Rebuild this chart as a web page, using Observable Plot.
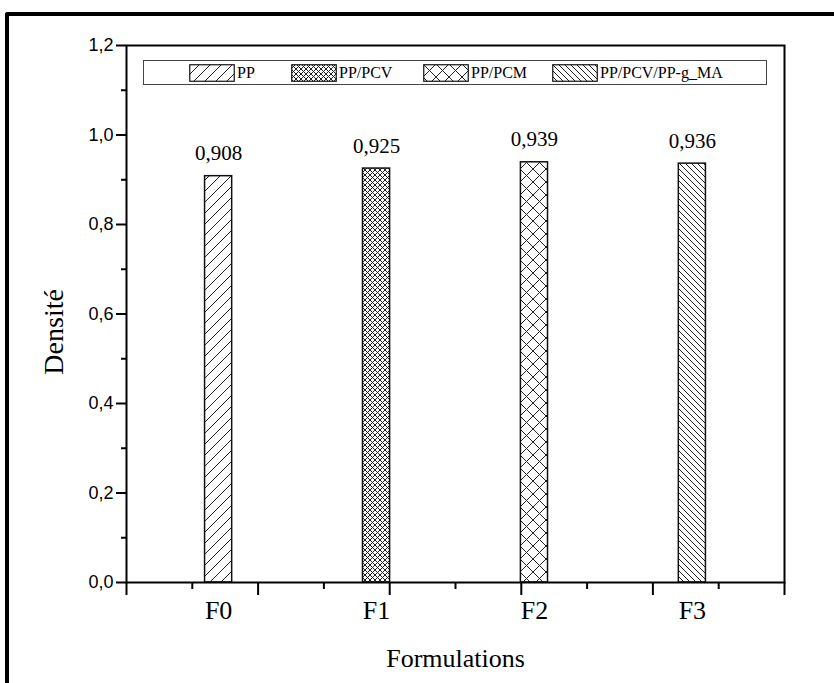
<!DOCTYPE html>
<html>
<head>
<meta charset="utf-8">
<script src="https://cdn.jsdelivr.net/npm/d3@7"></script>
<script src="https://cdn.jsdelivr.net/npm/@observablehq/plot@0.6"></script>
<style>
  html, body { margin: 0; padding: 0; background: #fff; overflow: hidden; width: 834px; height: 683px; }
  #outer { position: absolute; left: 5px; top: 12px; width: 1000px; height: 1000px;
           border-left: 4px solid #000; border-top: 4px solid #000; border-top-left-radius: 3px; }
  #chart { position: absolute; left: 0; top: 0; }
  #legend { position: absolute; left: 143px; top: 60px; width: 622px; height: 23px;
            border: 1.5px solid #444; background: #fff; font-family: "Liberation Serif", "Times New Roman", serif;
            font-size: 16px; color: #000; }
  .item { position: absolute; top: 3px; height: 18px; display: flex; align-items: center; }
  .item span { margin-left: 2px; line-height: 18px; }
</style>
</head>
<body>
<div id="outer"></div>
<svg width="0" height="0" style="position:absolute">
  <defs>
    <pattern id="pat0" patternUnits="userSpaceOnUse" width="11" height="11">
      <path d="M-1,12 L12,-1 M-3,3 L3,-3 M8,14 L14,8" stroke="#222" stroke-width="1"/>
    </pattern>
    <pattern id="pat1" patternUnits="userSpaceOnUse" width="5" height="5">
      <path d="M0,5 L5,0 M0,0 L5,5 M-1,1 L1,-1 M4,6 L6,4 M-1,4 L1,6 M4,-1 L6,1" stroke="#222" stroke-width="1"/>
    </pattern>
    <pattern id="pat2" patternUnits="userSpaceOnUse" width="13" height="13">
      <path d="M0,13 L13,0 M0,0 L13,13" stroke="#222" stroke-width="1"/>
    </pattern>
    <pattern id="pat3" patternUnits="userSpaceOnUse" width="6" height="6">
      <path d="M0,0 L6,6 M-1,5 L1,7 M5,-1 L7,1" stroke="#222" stroke-width="1"/>
    </pattern>
  </defs>
</svg>
<div id="chart"></div>
<div id="legend"></div>
<script>
// ---- data ----
const categories = ["F0", "F1", "F2", "F3"];
const densities = [0.908, 0.925, 0.939, 0.936];
const valueLabels = ["0,908", "0,925", "0,939", "0,936"];
const seriesNames = ["PP", "PP/PCV", "PP/PCM", "PP/PCV/PP-g_MA"];
const yTicks = [0, 0.2, 0.4, 0.6, 0.8, 1.0, 1.2];
const yTickLabels = ["0,0", "0,2", "0,4", "0,6", "0,8", "1,0", "1,2"];
const yMinorTicks = [0.1, 0.3, 0.5, 0.7, 0.9, 1.1];
const xMajorTicks = [0, 1, 2, 3, 4, 5];
const xMinorTicks = [0.5, 1.5, 2.5, 3.5, 4.5];

// ---- layout helpers (not data) ----
const patterns = ["url(#pat0)", "url(#pat1)", "url(#pat2)", "url(#pat3)"];
const positions = categories.map((c, i) => 0.7 + 1.2 * i);
const halfWidth = 0.103;
const rows = categories.map((c, i) => ({
  cat: c, pos: positions[i], value: densities[i], label: valueLabels[i], pat: patterns[i]
}));

const serif = "'Liberation Serif', 'Times New Roman', serif";
const sans = "'Liberation Sans', Arial, sans-serif";

const chart = Plot.plot({
  width: 834, height: 683,
  marginLeft: 126, marginTop: 45, marginRight: 50, marginBottom: 101,
  style: { background: "transparent", color: "#000" },
  x: { domain: [0, 5] },
  y: { domain: [0, 1.2] },
  color: { type: "identity" },
  marks: [
    Plot.rectY(rows, {
      x1: d => d.pos - halfWidth, x2: d => d.pos + halfWidth,
      y1: 0, y2: "value", fill: "pat", stroke: "#111", strokeWidth: 1.5
    }),
    Plot.frame({ stroke: "#000", strokeWidth: 2 }),
    Plot.axisY({
      ticks: yTicks, tickFormat: d => yTickLabels[yTicks.indexOf(d)],
      tickSize: 10, tickPadding: 3, strokeWidth: 2, fontSize: 18, fontFamily: sans, label: null
    }),
    Plot.axisY({ ticks: yMinorTicks, tickFormat: () => "", tickSize: 5, strokeWidth: 2, label: null }),
    Plot.axisX({ ticks: xMajorTicks, tickFormat: () => "", tickSize: 13, strokeWidth: 2, label: null }),
    Plot.axisX({ ticks: xMinorTicks, tickFormat: () => "", tickSize: 7, strokeWidth: 2, label: null }),
    Plot.axisX({
      ticks: positions, tickFormat: d => categories[positions.indexOf(d)],
      tickSize: 0, tickPadding: 18, fontSize: 26, fontFamily: serif, label: null
    }),
    Plot.text(rows, {
      x: "pos", y: "value", text: "label", dy: -16, lineAnchor: "bottom",
      fontSize: 21, fontFamily: serif, fill: "#000"
    }),
    Plot.text(["Densité"], {
      frameAnchor: "left", y: [0.56], dx: -72, rotate: -90, textAnchor: "middle",
      fontSize: 28, fontFamily: serif, fill: "#000"
    }),
    Plot.text(["Formulations"], {
      frameAnchor: "bottom", dy: 84, lineAnchor: "bottom",
      fontSize: 26, fontFamily: serif, fill: "#000"
    })
  ]
});
document.getElementById("chart").appendChild(chart);

// ---- legend ----
const legendX = [45, 147, 279, 408];
const legend = d3.select("#legend");
seriesNames.forEach((name, i) => {
  const item = legend.append("div").attr("class", "item").style("left", legendX[i] + "px");
  const sw = item.append("svg").attr("width", 46).attr("height", 18);
  sw.append("rect").attr("x", 0.75).attr("y", 0.75).attr("width", 44.5).attr("height", 16.5)
    .attr("fill", patterns[i]).attr("stroke", "#111").attr("stroke-width", 1.2);
  item.append("span").text(name);
});
</script>
</body>
</html>
